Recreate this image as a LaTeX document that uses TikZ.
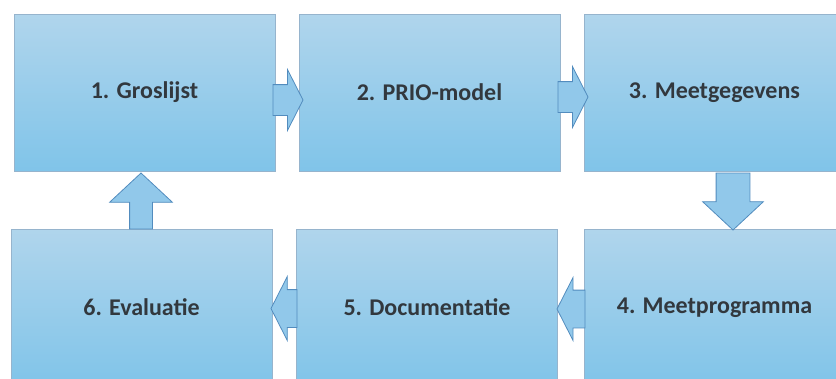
\documentclass[tikz,border=0pt]{standalone}
\usepackage{fontspec}
\setmainfont{Carlito}
\usetikzlibrary{positioning,shapes.arrows}

\definecolor{boxtop}{RGB}{176,213,236}
\definecolor{boxbot}{RGB}{128,196,233}
\definecolor{boxrand}{RGB}{150,180,205}
\definecolor{pijlvul}{RGB}{145,200,234}
\definecolor{pijlrand}{RGB}{82,140,190}
\definecolor{tekst}{RGB}{50,56,62}

\tikzset{
  fase/.style={rectangle, draw=boxrand, line width=0.6pt,
    top color=boxtop, bottom color=boxbot,
    minimum width=261pt, minimum height=157pt,
    font=\fontsize{24}{28}\selectfont\bfseries, text=tekst},
  pijl/.style={single arrow, draw=pijlrand, line width=0.8pt, fill=pijlvul,
    outer sep=0pt, anchor=tail},
  hpijl/.style={pijl, inner xsep=0pt, single arrow tip angle=126},
  vpijl/.style={pijl, inner ysep=0pt, single arrow tip angle=94}
}

\begin{document}
\begin{tikzpicture}[x=1pt,y=-1pt]
        \useasboundingbox (0,0) rectangle (836,378);
        \clip (0,0) rectangle (836,378);

        \draw (144.5, 92.5) node[fase] (groslijst) {1. Groslijst};

        \draw (429.5, 92.5) node[fase] (prio) {2. PRIO-model};

        \draw (714.5, 92.5) node[fase] (gegevens) {3. Meetgegevens};

        \draw (714.5, 307.5) node[fase] (programma) {4. Meetprogramma};

        \draw (427, 307.5) node[fase] (documentatie) {5. Documentatie};

        \draw (141.5, 307.5) node[fase] (evaluatie) {6. Evaluatie};

        % pijlen tussen de fases, geplaatst op hun staart
        \draw (273, 100) node[hpijl, minimum height=30pt, inner ysep=15pt,
        single arrow head extend=15pt] (p12) {};

        \draw (558, 97) node[hpijl, minimum height=30pt, inner ysep=15pt,
        single arrow head extend=15pt] (p23) {};

        \draw (733, 173) node[vpijl, shape border rotate=270, minimum height=57pt,
        inner xsep=16.5pt, single arrow head extend=13.5pt] (p34) {};

        \draw (585, 309) node[hpijl, shape border rotate=180, minimum height=28pt,
        inner ysep=18.5pt, single arrow head extend=12.5pt] (p45) {};

        \draw (297, 308.5) node[hpijl, shape border rotate=180, minimum height=26pt,
        inner ysep=18.5pt, single arrow head extend=13pt] (p56) {};

        \draw (141, 229) node[vpijl, shape border rotate=90, minimum height=56pt,
        inner xsep=11pt, single arrow head extend=20pt] (p61) {};
      \end{tikzpicture}
\end{document}
